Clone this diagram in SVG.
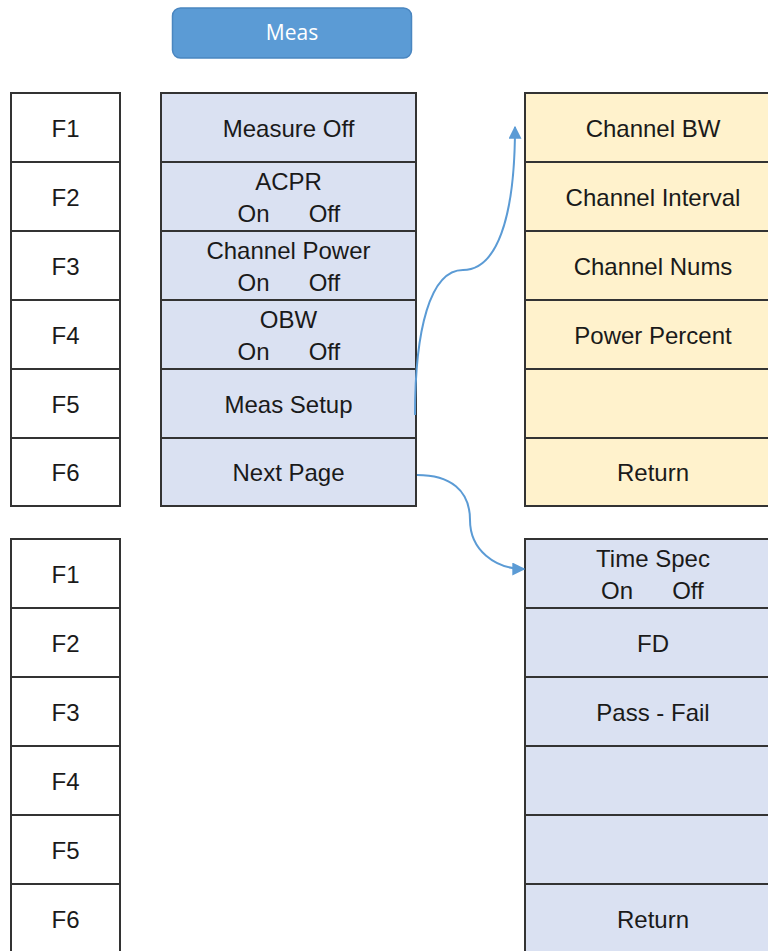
<svg xmlns="http://www.w3.org/2000/svg" width="768" height="951" viewBox="0 0 768 951">
<defs>
<style>
.t{font-family:"Liberation Sans",Arial,sans-serif;font-size:24px;fill:#1a1a1a;text-anchor:middle}
.f{fill:#ffffff;stroke:#333333;stroke-width:2}
.b{fill:#dae1f2;stroke:#333333;stroke-width:2}
.y{fill:#fff2cc;stroke:#333333;stroke-width:2}
.c{fill:none;stroke:#5b9bd5;stroke-width:2}
</style>
<marker id="ah" viewBox="0 0 10 10" refX="9" refY="5" markerWidth="6.5" markerHeight="6.5" orient="auto" markerUnits="strokeWidth">
<path d="M0,0 L10,5 L0,10 z" fill="#5b9bd5"/>
</marker>
</defs>
<rect width="768" height="951" fill="#ffffff"/>

<g id="meas-button">
<rect x="172.5" y="8" width="239" height="50" rx="8" fill="#5b9bd5" stroke="#4a86c0" stroke-width="1.5"/>
<text x="292" y="40" font-family="'Open Sans','Liberation Sans',sans-serif" font-size="21" fill="#ffffff" text-anchor="middle">Meas</text>
</g>

<g id="fkeys-top">
<rect class="f" x="11" y="93" width="109" height="69"/><text class="t" x="65.5" y="137">F1</text>
<rect class="f" x="11" y="162" width="109" height="69"/><text class="t" x="65.5" y="206">F2</text>
<rect class="f" x="11" y="231" width="109" height="69"/><text class="t" x="65.5" y="275">F3</text>
<rect class="f" x="11" y="300" width="109" height="69"/><text class="t" x="65.5" y="344">F4</text>
<rect class="f" x="11" y="369" width="109" height="69"/><text class="t" x="65.5" y="413">F5</text>
<rect class="f" x="11" y="438" width="109" height="68"/><text class="t" x="65.5" y="481">F6</text>
</g>

<g id="meas-menu">
<rect class="b" x="161" y="93" width="255" height="69"/><text class="t" x="288.5" y="137">Measure Off</text>
<rect class="b" x="161" y="162" width="255" height="69"/><text class="t" x="288.5" y="190">ACPR</text><text class="t" y="222"><tspan x="253.5">On</tspan><tspan x="324.5">Off</tspan></text>
<rect class="b" x="161" y="231" width="255" height="69"/><text class="t" x="288.5" y="259">Channel Power</text><text class="t" y="291"><tspan x="253.5">On</tspan><tspan x="324.5">Off</tspan></text>
<rect class="b" x="161" y="300" width="255" height="69"/><text class="t" x="288.5" y="328">OBW</text><text class="t" y="360"><tspan x="253.5">On</tspan><tspan x="324.5">Off</tspan></text>
<rect class="b" x="161" y="369" width="255" height="69"/><text class="t" x="288.5" y="413">Meas Setup</text>
<rect class="b" x="161" y="438" width="255" height="68"/><text class="t" x="288.5" y="481">Next Page</text>
</g>

<g id="setup-menu">
<rect class="y" x="525" y="93" width="256" height="69"/><text class="t" x="653" y="137">Channel BW</text>
<rect class="y" x="525" y="162" width="256" height="69"/><text class="t" x="653" y="206">Channel Interval</text>
<rect class="y" x="525" y="231" width="256" height="69"/><text class="t" x="653" y="275">Channel Nums</text>
<rect class="y" x="525" y="300" width="256" height="69"/><text class="t" x="653" y="344">Power Percent</text>
<rect class="y" x="525" y="369" width="256" height="69"/>
<rect class="y" x="525" y="438" width="256" height="68"/><text class="t" x="653" y="481">Return</text>
</g>

<g id="fkeys-bottom">
<rect class="f" x="11" y="539" width="109" height="69"/><text class="t" x="65.5" y="583">F1</text>
<rect class="f" x="11" y="608" width="109" height="69"/><text class="t" x="65.5" y="652">F2</text>
<rect class="f" x="11" y="677" width="109" height="69"/><text class="t" x="65.5" y="721">F3</text>
<rect class="f" x="11" y="746" width="109" height="69"/><text class="t" x="65.5" y="790">F4</text>
<rect class="f" x="11" y="815" width="109" height="69"/><text class="t" x="65.5" y="859">F5</text>
<rect class="f" x="11" y="884" width="109" height="69"/><text class="t" x="65.5" y="928">F6</text>
</g>

<g id="next-page-menu">
<rect class="b" x="525" y="539" width="256" height="69"/><text class="t" x="653" y="567">Time Spec</text><text class="t" y="599"><tspan x="617">On</tspan><tspan x="688">Off</tspan></text>
<rect class="b" x="525" y="608" width="256" height="69"/><text class="t" x="653" y="652">FD</text>
<rect class="b" x="525" y="677" width="256" height="69"/><text class="t" x="653" y="721">Pass - Fail</text>
<rect class="b" x="525" y="746" width="256" height="69"/>
<rect class="b" x="525" y="815" width="256" height="69"/>
<rect class="b" x="525" y="884" width="256" height="69"/><text class="t" x="653" y="928">Return</text>
</g>

<g id="connectors">
<path class="c" d="M415,415 C415,330 430,270 463,270 C496,270 515,220 515,127" marker-end="url(#ah)"/>
<path class="c" d="M417,475 C450,475 470,490 470,520 C470,550 495,569 524,569" marker-end="url(#ah)"/>
</g>
</svg>
